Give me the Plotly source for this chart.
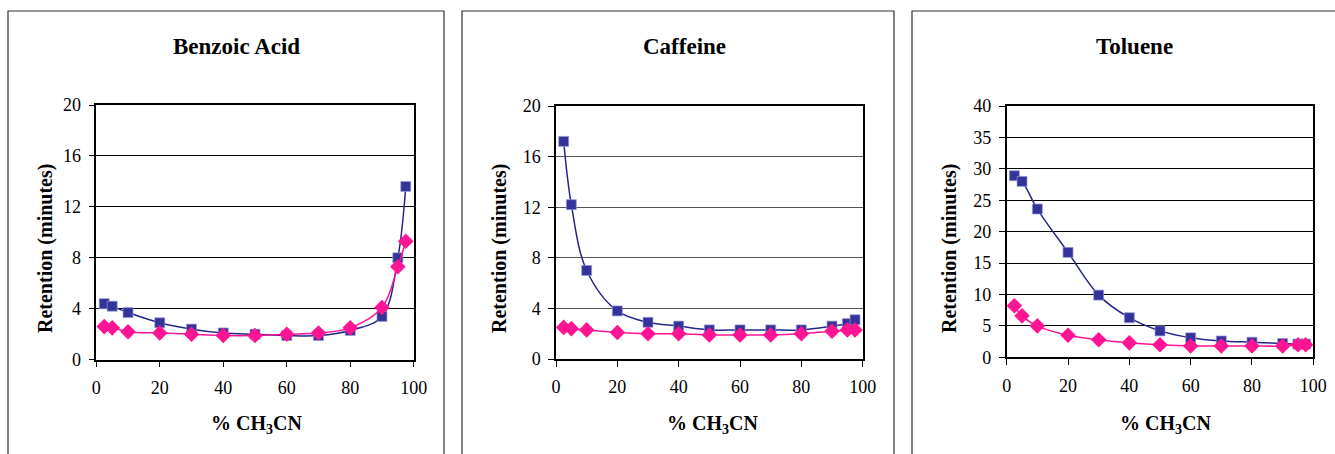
import plotly.graph_objects as go

W, H = 1335, 454

x_pct = [2.5, 5, 10, 20, 30, 40, 50, 60, 70, 80, 90, 95, 97.5]

benzoic_blue = [4.4, 4.2, 3.7, 2.9, 2.4, 2.1, 2.0, 1.9, 1.9, 2.3, 3.4, 8.0, 13.6]
benzoic_pink = [2.6, 2.5, 2.2, 2.1, 2.0, 1.9, 1.9, 2.0, 2.1, 2.5, 4.1, 7.3, 9.3]

caffeine_blue = [17.2, 12.2, 7.0, 3.8, 2.9, 2.6, 2.3, 2.3, 2.3, 2.3, 2.6, 2.8, 3.1]
caffeine_pink = [2.5, 2.4, 2.3, 2.1, 2.0, 2.0, 1.9, 1.9, 1.9, 2.0, 2.2, 2.3, 2.3]

toluene_blue = [28.9, 28.0, 23.6, 16.7, 9.9, 6.3, 4.2, 3.1, 2.6, 2.4, 2.2, 2.1, 2.1]
toluene_pink = [8.2, 6.6, 5.0, 3.5, 2.8, 2.3, 2.0, 1.8, 1.8, 1.8, 1.8, 2.0, 2.0]

titles = ["Benzoic Acid", "Caffeine", "Toluene"]
y_ranges = [[0, 20], [0, 20], [0, 40]]
y_dticks = [4, 4, 5]
x_ticks = [0, 20, 40, 60, 80, 100]

BLUE = "#333399"
BLUE_LINE = "#26268a"
PINK = "#ff1493"

FONT = "Liberation Serif, Times New Roman, serif"

panels = [
    (96.3, 413.7, 105.0, 359.7, 8, 444, 236.7, 45, 256.7),
    (556.0, 862.7, 106.0, 359.0, 462, 894, 684.7, 499, 712.8),
    (1006.7, 1313.3, 106.0, 357.3, 912, 1340, 1134.3, 949, 1165.0),
]
grid_colors = ["#000000", "#555555", "#000000"]

data_sets = [
    (benzoic_blue, benzoic_pink),
    (caffeine_blue, caffeine_pink),
    (toluene_blue, toluene_pink),
]

fig = go.Figure()
annotations = []
shapes = []

for i, (blue, pink) in enumerate(data_sets):
    n = "" if i == 0 else str(i + 1)
    xa, ya = "x" + n, "y" + n
    fig.add_trace(go.Scatter(
        x=x_pct, y=blue, xaxis=xa, yaxis=ya, mode="lines+markers",
        line=dict(color=BLUE_LINE, width=1.5, shape="spline", smoothing=1.0),
        marker=dict(symbol="square", size=10, color=BLUE, line=dict(width=0.7, color="#9a9ad8")),
        showlegend=False, cliponaxis=False))
    fig.add_trace(go.Scatter(
        x=x_pct, y=pink, xaxis=xa, yaxis=ya, mode="lines+markers",
        line=dict(color=PINK, width=1.5, shape="spline", smoothing=1.0),
        marker=dict(symbol="diamond", size=12, color=PINK, line=dict(width=0)),
        showlegend=False, cliponaxis=False))

    px0, px1, pyt, pyb, fx0, fx1, tcx, ytcx, xtcx = panels[i]
    xdom = [px0 / W, px1 / W]
    ydom = [1 - pyb / H, 1 - pyt / H]
    fig.update_layout(**{
        "xaxis" + n: dict(
            domain=xdom, range=[0, 100], tickvals=x_ticks, anchor=ya, automargin=False,
            showgrid=False, zeroline=False, showline=True, mirror=True,
            linecolor="black", linewidth=1.5, ticks="outside", ticklen=6,
            tickcolor="black", tickwidth=1, ticklabelstandoff=5,
            tickfont=dict(family=FONT, size=18, color="black")),
        "yaxis" + n: dict(
            domain=ydom, range=y_ranges[i], dtick=y_dticks[i], anchor=xa, automargin=False,
            showgrid=True, gridcolor=grid_colors[i], gridwidth=1, zeroline=False,
            showline=True, mirror=True, linecolor="black", linewidth=1.5,
            ticks="outside", ticklen=6, tickcolor="black", tickwidth=1, ticklabelstandoff=4,
            tickfont=dict(family=FONT, size=18, color="black")),
    })

    annotations.append(dict(
        text="<b>%s</b>" % titles[i], x=tcx / W, y=1 - 46 / H, xref="paper", yref="paper",
        showarrow=False, xanchor="center", yanchor="middle",
        font=dict(family=FONT, size=23, color="black")))
    annotations.append(dict(
        text="<b>Retention (minutes)</b>", x=ytcx / W, y=1 - 249 / H, xref="paper", yref="paper",
        showarrow=False, textangle=-90, xanchor="center", yanchor="middle",
        font=dict(family=FONT, size=20, color="black")))
    annotations.append(dict(
        text="<b>% CH<sub>3</sub>CN</b>", x=xtcx / W, y=1 - 424 / H, xref="paper", yref="paper",
        showarrow=False, xanchor="center", yanchor="middle",
        font=dict(family=FONT, size=20, color="black")))
    shapes.append(dict(
        type="rect", xref="paper", yref="paper",
        x0=fx0 / W, x1=fx1 / W, y0=-0.05, y1=1 - 11 / H,
        line=dict(color="#333333", width=1.2), fillcolor="rgba(0,0,0,0)", layer="below"))

fig.update_layout(
    width=W, height=H, margin=dict(l=0, r=0, t=0, b=0, pad=0, autoexpand=False),
    paper_bgcolor="white", plot_bgcolor="white",
    annotations=annotations, shapes=shapes,
)

fig.write_html("out.html", config={"displayModeBar": False})
